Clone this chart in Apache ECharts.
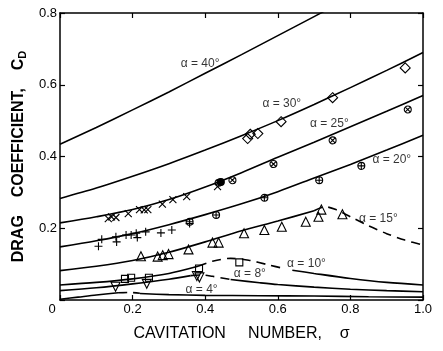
<!DOCTYPE html>
<html>
<head>
<meta charset="utf-8">
<script src="https://cdn.jsdelivr.net/npm/echarts@6.0.0/dist/echarts.min.js"></script>
<style>
html, body { margin: 0; padding: 0; background: #fff; }
#chart { width: 443px; height: 351px; }
</style>
</head>
<body>
<div id="chart"></div>
<script>
// curves: [sigma, Cd]; "dash" parts are the dashed pieces of a curve
const alpha40 = [[0, 0.434], [0.1, 0.481], [0.2, 0.53], [0.3, 0.58], [0.4, 0.632], [0.5, 0.684], [0.6, 0.737], [0.7, 0.79], [0.76, 0.822]];
const alpha30 = [[0, 0.283], [0.1, 0.312], [0.2, 0.345], [0.3, 0.38], [0.4, 0.418], [0.5, 0.458], [0.6, 0.5], [0.7, 0.545], [0.8, 0.592], [0.9, 0.64], [1.0, 0.69]];
const alpha25 = [[0, 0.215], [0.1, 0.232], [0.2, 0.252], [0.3, 0.28], [0.4, 0.315], [0.5, 0.355], [0.6, 0.398], [0.7, 0.44], [0.8, 0.483], [0.9, 0.526], [1.0, 0.57]];
const alpha20 = [[0, 0.148], [0.1, 0.165], [0.2, 0.185], [0.3, 0.21], [0.4, 0.238], [0.5, 0.268], [0.6, 0.302], [0.7, 0.34], [0.8, 0.378], [0.9, 0.418], [1.0, 0.459]];
const alpha15 = [[0, 0.082], [0.1, 0.094], [0.2, 0.11], [0.3, 0.133], [0.4, 0.162], [0.5, 0.193], [0.6, 0.22], [0.7, 0.249]];
const alpha15dash = [[0.7, 0.249], [0.73, 0.26], [0.76, 0.252], [0.8, 0.232], [0.85, 0.207], [0.9, 0.185], [0.95, 0.167], [1.0, 0.153]];
const alpha10a = [[0, 0.042], [0.1, 0.049], [0.2, 0.059], [0.3, 0.074], [0.38, 0.094]];
const alpha10dash = [[0.38, 0.094], [0.42, 0.108], [0.47, 0.116], [0.52, 0.111], [0.57, 0.099], [0.62, 0.087]];
const alpha10b = [[0.64, 0.083], [0.7, 0.074], [0.8, 0.06], [0.9, 0.049], [1.0, 0.042]];
const alpha8a = [[0, 0.026], [0.1, 0.034], [0.2, 0.045], [0.3, 0.058], [0.36, 0.068]];
const alpha8dash = [[0.36, 0.068], [0.39, 0.07], [0.42, 0.066], [0.47, 0.057]];
const alpha8b = [[0.47, 0.057], [0.55, 0.048], [0.6, 0.043], [0.7, 0.036], [0.8, 0.03], [0.9, 0.026], [1.0, 0.023]];
const alpha4a = [[0, 0.002], [0.05, 0.008], [0.1, 0.014], [0.16, 0.02]];
const alpha4dash = [[0.16, 0.02], [0.19, 0.021], [0.22, 0.019]];
const alpha4b = [[0.22, 0.018], [0.3, 0.015], [0.4, 0.013], [0.55, 0.012], [0.7, 0.011], [0.85, 0.009], [1.0, 0.008]];

// measured points
const diamonds = [[0.517, 0.450], [0.524, 0.462], [0.545, 0.464], [0.609, 0.497], [0.751, 0.564], [0.951, 0.647]];
const circleCross = [[0.437, 0.327], [0.475, 0.334], [0.588, 0.379], [0.751, 0.445], [0.958, 0.531]];
const circleFilled = [[0.443, 0.329]];
const crosses = [[0.133, 0.227], [0.142, 0.232], [0.154, 0.230], [0.188, 0.241], [0.219, 0.252], [0.232, 0.251], [0.242, 0.252], [0.282, 0.267], [0.311, 0.280], [0.349, 0.288], [0.434, 0.316]];
const circlePlus = [[0.357, 0.218], [0.430, 0.237], [0.563, 0.285], [0.714, 0.334], [0.830, 0.374]];
const pluses = [[0.106, 0.150], [0.115, 0.169], [0.154, 0.176], [0.156, 0.162], [0.182, 0.181], [0.196, 0.181], [0.210, 0.186], [0.213, 0.174], [0.236, 0.190], [0.278, 0.187], [0.308, 0.195], [0.357, 0.213]];
const triangles = [[0.223, 0.122], [0.269, 0.121], [0.283, 0.125], [0.299, 0.128], [0.354, 0.141], [0.420, 0.160], [0.437, 0.160], [0.507, 0.186], [0.563, 0.195], [0.611, 0.204], [0.677, 0.218], [0.712, 0.232], [0.720, 0.252], [0.778, 0.239]];
const squares = [[0.179, 0.059], [0.196, 0.062], [0.245, 0.062], [0.383, 0.088], [0.494, 0.105]];
const downTriangles = [[0.153, 0.037], [0.239, 0.045], [0.377, 0.067], [0.384, 0.063]];

// curve labels
const labelText = ['α = 40°', 'α = 30°', 'α = 25°', 'α = 20°', 'α = 15°', 'α = 10°', 'α = 8°', 'α = 4°'];
const labelX = [0.386, 0.611, 0.742, 0.914, 0.877, 0.679, 0.523, 0.39];
const labelY = [0.658, 0.548, 0.492, 0.392, 0.228, 0.102, 0.074, 0.030];

const circ = 'M10,5C10,7.76 7.76,10 5,10C2.24,10 0,7.76 0,5C0,2.24 2.24,0 5,0C7.76,0 10,2.24 10,5Z';
const symPlus = 'path://M5,0L5,10M0,5L10,5';
const symCross = 'path://M0,0L10,10M10,0L0,10';
const symCirclePlus = 'path://' + circ + 'M0,5L10,5M5,0L5,10';
const symCircleCross = 'path://' + circ + 'M1.46,1.46L8.54,8.54M8.54,1.46L1.46,8.54';

const font = 'Liberation Sans, Arial, Helvetica, sans-serif';

function curve(data, dashed) {
    return {
        type: 'line',
        data: data,
        smooth: 0.3,
        symbol: 'none',
        silent: true,
        lineStyle: { color: '#000', width: 1.6, type: dashed ? [9, 6] : 'solid' },
        z: 2
    };
}

function points(data, symbol, size, rotate, fill) {
    return {
        type: 'scatter',
        data: data,
        symbol: symbol,
        symbolSize: size,
        symbolRotate: rotate || 0,
        silent: true,
        itemStyle: { color: fill || 'rgba(0,0,0,0)', borderColor: '#000', borderWidth: 1.1, opacity: 1 },
        z: 3
    };
}

const labelData = labelText.map((t, i) => ({ name: t, value: [labelX[i], labelY[i]] }));

const axisCommon = {
    min: 0,
    interval: 0.2,
    axisLine: { onZero: false, lineStyle: { color: '#000', width: 1.5 } },
    axisTick: { inside: true, length: 5, lineStyle: { color: '#000', width: 1.2 } },
    splitLine: { show: false }
};

let myChart = echarts.init(document.getElementById('chart'));
let option = {
    animation: false,
    backgroundColor: '#fff',
    grid: { left: 60, right: 20, top: 13, bottom: 51, outerBoundsMode: 'none' },
    xAxis: [
        Object.assign({}, axisCommon, {
            type: 'value', position: 'bottom', max: 1.0,
            name: 'CAVITATION     NUMBER,    σ',
            nameLocation: 'middle', nameGap: 26,
            nameTextStyle: { color: '#000', fontSize: 16, fontFamily: font },
            axisLabel: {
                color: '#000', fontSize: 13, fontFamily: font, margin: 3,
                formatter: v => v === 0 ? '{z|0}' : v.toFixed(1),
                rich: { z: { color: '#000', fontSize: 13, fontFamily: font, padding: [0, 16, 0, 0] } }
            }
        }),
        Object.assign({}, axisCommon, {
            type: 'value', position: 'top', max: 1.0,
            axisLabel: { show: false }
        })
    ],
    yAxis: [
        Object.assign({}, axisCommon, {
            type: 'value', position: 'left', max: 0.8,
            name: 'DRAG    COEFFICIENT,    C{sub|D}',
            nameLocation: 'middle', nameGap: 27, nameRotate: 90,
            nameTextStyle: {
                color: '#000', fontSize: 16, fontWeight: 'bold', fontFamily: font,
                verticalAlign: 'top',
                rich: { sub: { color: '#000', fontSize: 11, fontWeight: 'bold', fontFamily: font, padding: [8, 0, 0, 0], verticalAlign: 'top' } }
            },
            axisLabel: {
                color: '#000', fontSize: 13, fontFamily: font, margin: 3,
                formatter: v => v === 0 ? '' : v.toFixed(1)
            }
        }),
        Object.assign({}, axisCommon, {
            type: 'value', position: 'right', max: 0.8,
            axisLabel: { show: false }
        })
    ],
    series: [
        curve(alpha40), curve(alpha30), curve(alpha25), curve(alpha20),
        curve(alpha15), curve(alpha15dash, true),
        curve(alpha10a), curve(alpha10dash, true), curve(alpha10b),
        curve(alpha8a), curve(alpha8dash, true), curve(alpha8b),
        curve(alpha4a), curve(alpha4dash, true), curve(alpha4b),
        points(diamonds, 'diamond', 10),
        points(circleCross, symCircleCross, 7),
        points(circleFilled, 'circle', 7, 0, '#000'),
        points(crosses, symCross, 7),
        points(circlePlus, symCirclePlus, 7),
        points(pluses, symPlus, 8),
        points(triangles, 'triangle', 9),
        points(squares, 'rect', 7),
        points(downTriangles, 'triangle', 9, 180),
        {
            type: 'scatter',
            data: labelData,
            symbolSize: 1,
            silent: true,
            itemStyle: { color: 'rgba(0,0,0,0)' },
            label: {
                show: true, position: 'inside', formatter: p => p.name,
                color: '#000', fontSize: 12, fontFamily: font
            },
            z: 4
        }
    ]
};
myChart.setOption(option);
</script>
</body>
</html>
